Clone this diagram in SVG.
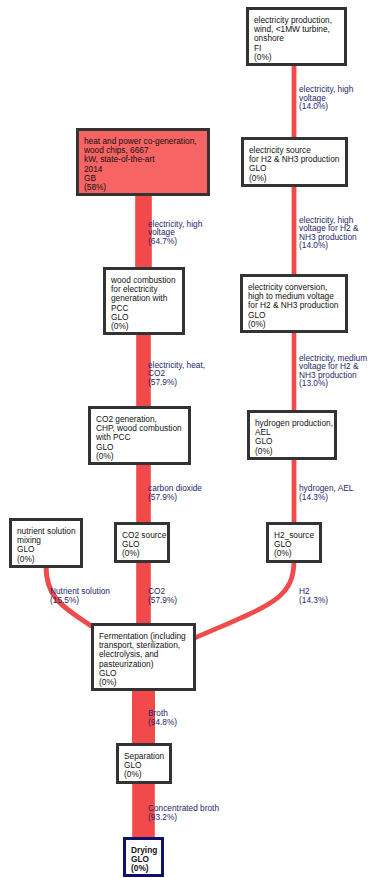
<svg xmlns="http://www.w3.org/2000/svg" width="371" height="878" viewBox="0 0 371 878">
  <style>
    .node rect { fill: #ffffff; stroke: #333333; stroke-width: 3; }
    .node.hot rect { fill: #f76464; }
    .node.sink rect { stroke: #10106e; }
    .node text { font-family: "Liberation Sans", Arial, sans-serif; font-size: 8.3px; fill: #111111; }
    .node.sink text { font-weight: bold; }
    .flow { fill: #f24a4a; }
    .flow-line { fill: none; stroke: #ef4b4b; }
    .lbl { font-family: "Liberation Sans", Arial, sans-serif; font-size: 8.3px; fill: #26266a; }
  </style>

  <!-- connectors: flow bands (width follows share of flow) and their labels -->
  <g id="connectors">
    <!-- right column: wind power to hydrogen -->
    <rect class="flow" x="291.6" y="64" width="4.8" height="75"/>
    <rect class="flow" x="291.6" y="185" width="4.8" height="91"/>
    <rect class="flow" x="291.7" y="331" width="4.6" height="81"/>
    <rect class="flow" x="291.6" y="458" width="4.8" height="66"/>
    <path class="flow-line" stroke-width="4.8" d="M294 560 C294 600 270 605 190 640"/>

    <!-- left column: heat and power chain -->
    <rect class="flow" x="135.2" y="194" width="16.6" height="75"/>
    <rect class="flow" x="136.2" y="333" width="14.6" height="75"/>
    <rect class="flow" x="136.2" y="463" width="14.6" height="61"/>
    <rect class="flow" x="136.2" y="560" width="14.6" height="65"/>
    <rect class="flow" x="132" y="689" width="23" height="56"/>
    <rect class="flow" x="132.2" y="781" width="22.6" height="58"/>

    <!-- nutrient supply -->
    <path class="flow-line" stroke-width="5" d="M46 566 C46 600 64 607 100 632"/>

    <text class="lbl" x="299"><tspan x="299" y="92">electricity, high</tspan><tspan x="299" y="100.5">voltage</tspan><tspan x="299" y="109">(14.0%)</tspan></text>
    <text class="lbl"><tspan x="299" y="223">electricity, high</tspan><tspan x="299" y="231.3">voltage for H2 &amp;</tspan><tspan x="299" y="239.6">NH3 production</tspan><tspan x="299" y="248">(14.0%)</tspan></text>
    <text class="lbl"><tspan x="299" y="361">electricity, medium</tspan><tspan x="299" y="369.3">voltage for H2 &amp;</tspan><tspan x="299" y="377.6">NH3 production</tspan><tspan x="299" y="386">(13.0%)</tspan></text>
    <text class="lbl"><tspan x="299" y="491">hydrogen, AEL</tspan><tspan x="299" y="499.5">(14.3%)</tspan></text>
    <text class="lbl"><tspan x="299" y="594">H2</tspan><tspan x="299" y="602.5">(14.3%)</tspan></text>

    <text class="lbl"><tspan x="148" y="227">electricity, high</tspan><tspan x="148" y="235.3">voltage</tspan><tspan x="148" y="243.6">(64.7%)</tspan></text>
    <text class="lbl"><tspan x="148" y="368">electricity, heat,</tspan><tspan x="148" y="376.3">CO2</tspan><tspan x="148" y="384.6">(57.9%)</tspan></text>
    <text class="lbl"><tspan x="148" y="491">carbon dioxide</tspan><tspan x="148" y="499.5">(57.9%)</tspan></text>
    <text class="lbl"><tspan x="148" y="594">CO2</tspan><tspan x="148" y="602.5">(57.9%)</tspan></text>
    <text class="lbl"><tspan x="50" y="594">Nutrient solution</tspan><tspan x="50" y="602.5">(15.5%)</tspan></text>
    <text class="lbl"><tspan x="148" y="716">Broth</tspan><tspan x="148" y="724.5">(94.8%)</tspan></text>
    <text class="lbl"><tspan x="148" y="811">Concentrated broth</tspan><tspan x="148" y="819.5">(93.2%)</tspan></text>
  </g>

  <!-- process nodes -->
  <g id="wind" class="node">
    <rect x="247.5" y="8.5" width="98" height="56"/>
    <text><tspan x="254" y="23">electricity production,</tspan><tspan x="254" y="32.2">wind, &lt;1MW turbine,</tspan><tspan x="254" y="41.4">onshore</tspan><tspan x="254" y="50.6">FI</tspan><tspan x="254" y="59.8">(0%)</tspan></text>
  </g>

  <g id="elec-source" class="node">
    <rect x="242.5" y="138.5" width="104" height="47"/>
    <text><tspan x="249" y="153">electricity source</tspan><tspan x="249" y="162.2">for H2 &amp; NH3 production</tspan><tspan x="249" y="171.4">GLO</tspan><tspan x="249" y="180.6">(0%)</tspan></text>
  </g>

  <g id="elec-conversion" class="node">
    <rect x="241.5" y="275.5" width="105" height="56"/>
    <text><tspan x="248" y="290">electricity conversion,</tspan><tspan x="248" y="299.2">high to medium voltage</tspan><tspan x="248" y="308.4">for H2 &amp; NH3 production</tspan><tspan x="248" y="317.6">GLO</tspan><tspan x="248" y="326.8">(0%)</tspan></text>
  </g>

  <g id="hydrogen" class="node">
    <rect x="248.5" y="411.5" width="87" height="47"/>
    <text><tspan x="255" y="426">hydrogen production,</tspan><tspan x="255" y="435.2">AEL</tspan><tspan x="255" y="444.4">GLO</tspan><tspan x="255" y="453.6">(0%)</tspan></text>
  </g>

  <g id="h2-source" class="node">
    <rect x="267.5" y="523.5" width="53" height="38"/>
    <text><tspan x="274" y="538">H2_source</tspan><tspan x="274" y="547.2">GLO</tspan><tspan x="274" y="556.4">(0%)</tspan></text>
  </g>

  <g id="chp" class="node hot">
    <rect x="77.5" y="129.5" width="131" height="65"/>
    <text><tspan x="84" y="144">heat and power co-generation,</tspan><tspan x="84" y="153.2">wood chips, 6667</tspan><tspan x="84" y="162.4">kW, state-of-the-art</tspan><tspan x="84" y="171.6">2014</tspan><tspan x="84" y="180.8">GB</tspan><tspan x="84" y="190">(58%)</tspan></text>
  </g>

  <g id="wood-combustion" class="node">
    <rect x="104.5" y="268.5" width="79" height="65"/>
    <text><tspan x="111" y="283">wood combustion</tspan><tspan x="111" y="292.2">for electricity</tspan><tspan x="111" y="301.4">generation with</tspan><tspan x="111" y="310.6">PCC</tspan><tspan x="111" y="319.8">GLO</tspan><tspan x="111" y="329">(0%)</tspan></text>
  </g>

  <g id="co2-generation" class="node">
    <rect x="89.5" y="407.5" width="100" height="56"/>
    <text><tspan x="96" y="422">CO2 generation,</tspan><tspan x="96" y="431.2">CHP, wood combustion</tspan><tspan x="96" y="440.4">with PCC</tspan><tspan x="96" y="449.6">GLO</tspan><tspan x="96" y="458.8">(0%)</tspan></text>
  </g>

  <g id="co2-source" class="node">
    <rect x="115.5" y="523.5" width="53" height="38"/>
    <text><tspan x="122" y="538">CO2 source</tspan><tspan x="122" y="547.2">GLO</tspan><tspan x="122" y="556.4">(0%)</tspan></text>
  </g>

  <g id="nutrient" class="node">
    <rect x="10.5" y="519.5" width="71" height="47"/>
    <text><tspan x="17" y="534">nutrient solution</tspan><tspan x="17" y="543.2">mixing</tspan><tspan x="17" y="552.4">GLO</tspan><tspan x="17" y="561.6">(0%)</tspan></text>
  </g>

  <g id="fermentation" class="node">
    <rect x="92.5" y="624.5" width="102" height="65"/>
    <text><tspan x="99" y="639">Fermentation (including</tspan><tspan x="99" y="648.2">transport, sterilization,</tspan><tspan x="99" y="657.4">electrolysis, and</tspan><tspan x="99" y="666.6">pasteurization)</tspan><tspan x="99" y="675.8">GLO</tspan><tspan x="99" y="685">(0%)</tspan></text>
  </g>

  <g id="separation" class="node">
    <rect x="117.5" y="744.5" width="53" height="38"/>
    <text><tspan x="124" y="759">Separation</tspan><tspan x="124" y="768.2">GLO</tspan><tspan x="124" y="777.4">(0%)</tspan></text>
  </g>

  <g id="drying" class="node sink">
    <rect x="124.5" y="838.5" width="38" height="37"/>
    <text><tspan x="131" y="853">Drying</tspan><tspan x="131" y="862.2">GLO</tspan><tspan x="131" y="871.4">(0%)</tspan></text>
  </g>
</svg>
